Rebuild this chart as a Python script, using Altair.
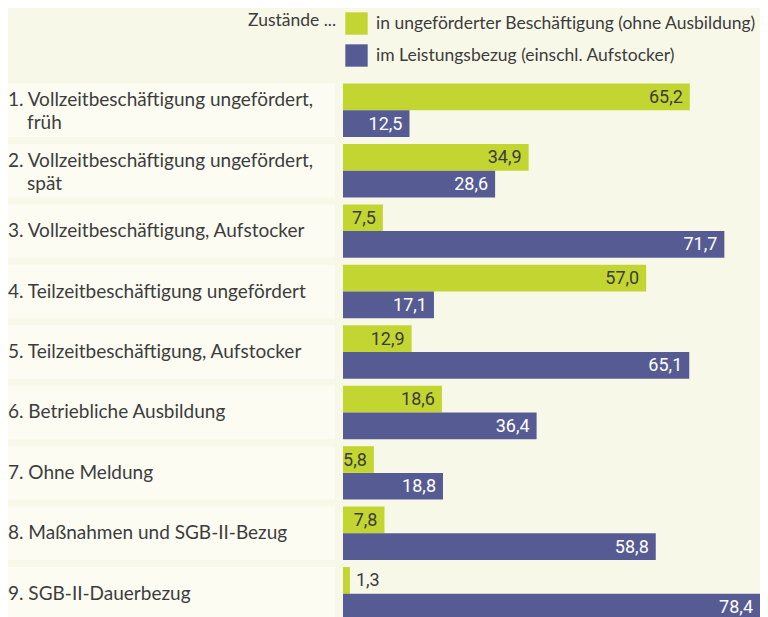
import altair as alt
import pandas as pd

ids = ["1", "2", "3", "4", "5", "6", "7", "8", "9"]
line1 = [
    "1. Vollzeitbeschäftigung ungefördert,",
    "2. Vollzeitbeschäftigung ungefördert,",
    "3. Vollzeitbeschäftigung, Aufstocker",
    "4. Teilzeitbeschäftigung ungefördert",
    "5. Teilzeitbeschäftigung, Aufstocker",
    "6. Betriebliche Ausbildung",
    "7. Ohne Meldung",
    "8. Maßnahmen und SGB-II-Bezug",
    "9. SGB-II-Dauerbezug",
]
line2 = ["früh", "spät", "", "", "", "", "", "", ""]
series = ["in ungeförderter Beschäftigung (ohne Ausbildung)",
          "im Leistungsbezug (einschl. Aufstocker)"]
green_vals = [65.2, 34.9, 7.5, 57.0, 12.9, 18.6, 5.8, 7.8, 1.3]
purple_vals = [12.5, 28.6, 71.7, 17.1, 65.1, 36.4, 18.8, 58.8, 78.4]

GREEN = "#c3d531"
PURPLE = "#565c93"
BG = "#f8f8e9"
TXT = "#3c3c3c"

rows = []
for i, c in enumerate(ids):
    rows.append({"cat": c, "series": series[0], "value": green_vals[i]})
    rows.append({"cat": c, "series": series[1], "value": purple_vals[i]})
df = pd.DataFrame(rows)
lab_df = pd.DataFrame({"cat": ids, "l1": line1, "l2": line2})

yenc = alt.Y("cat:N", sort=ids, axis=None,
             scale=alt.Scale(paddingInner=0.116, paddingOuter=0.058))
xenc = alt.X("value:Q", scale=alt.Scale(domain=[0, 78.4], nice=False), axis=None)
yoff = alt.YOffset("series:N", sort=series)

band = alt.Chart(lab_df).mark_rect(color="#fcfcf3").encode(
    y=yenc, x=alt.value(-335), x2=alt.value(-8)
)

bars = alt.Chart(df).mark_bar().encode(
    y=yenc, yOffset=yoff, x=xenc,
    color=alt.Color("series:N", sort=series,
                    scale=alt.Scale(domain=series, range=[GREEN, PURPLE]),
                    legend=alt.Legend(
                        title="Zustände ...", orient="none", legendX=-95, legendY=-68,
                        titleOrient="left", titleAnchor="start",
                        titleFont="Lato", titleFontSize=17.5,
                        titleFontWeight="normal", titleColor=TXT, titlePadding=8,
                        titleBaseline="top",
                        labelFont="Lato", labelFontSize=17.5, labelColor=TXT,
                        labelLimit=600, labelOffset=8,
                        symbolType="square", symbolSize=500, symbolStrokeWidth=0,
                        symbolOpacity=1, rowPadding=9, padding=0,
                    )),
)

fmt = alt.Chart(df).transform_calculate(
    lab="replace(format(datum.value, '.1f'), '.', ',')"
)

inside = fmt.transform_filter("datum.value >= 3").mark_text(
    align="right", baseline="middle", dx=-7, dy=1, font="Roboto", fontSize=18
).encode(
    y=yenc, yOffset=yoff, x=xenc, text="lab:N",
    color=alt.condition(alt.datum.series == series[1], alt.value("white"), alt.value(TXT)),
)

outside = fmt.transform_filter("datum.value < 3").mark_text(
    align="left", baseline="middle", dx=6, dy=1, font="Roboto", fontSize=18
).encode(
    y=yenc, yOffset=yoff, x=xenc, text="lab:N",
    color=alt.condition(alt.datum.series == series[1], alt.value("white"), alt.value(TXT)),
)

lab_base = alt.Chart(lab_df)
single = lab_base.transform_filter("datum.l2 == ''").mark_text(
    align="left", baseline="middle", font="Lato", fontSize=19, color=TXT
).encode(y=yenc, x=alt.value(-335), text="l1:N")
first = lab_base.transform_filter("datum.l2 != ''").mark_text(
    align="left", baseline="middle", font="Lato", fontSize=19, color=TXT, dy=-10
).encode(y=yenc, x=alt.value(-335), text="l1:N")
second = lab_base.transform_filter("datum.l2 != ''").mark_text(
    align="left", baseline="middle", font="Lato", fontSize=19, color=TXT, dy=13
).encode(y=yenc, x=alt.value(-316), text="l2:N")

chart = alt.layer(band, bars, inside, outside, single, first, second).properties(
    width=417, height=544, background=BG,
    padding={"top": 4, "left": 0, "right": 0, "bottom": 0},
).configure_view(stroke=None)

chart.save("out.html", embed_options={"renderer": "svg", "actions": False})
